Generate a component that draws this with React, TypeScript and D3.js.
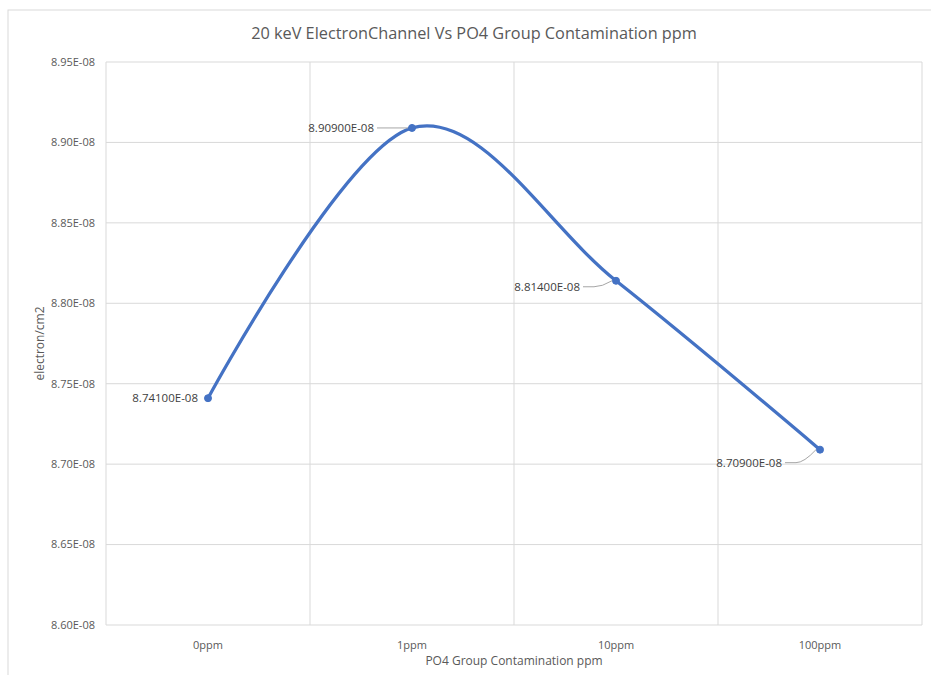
import React from 'react';
import * as d3 from 'd3';

// chart data
const categories = ['0ppm', '1ppm', '10ppm', '100ppm'];
const values = [8.741e-8, 8.909e-8, 8.814e-8, 8.709e-8];
const valueLabels = ['8.74100E-08', '8.90900E-08', '8.81400E-08', '8.70900E-08'];
const yTicks = [8.6e-8, 8.65e-8, 8.7e-8, 8.75e-8, 8.8e-8, 8.85e-8, 8.9e-8, 8.95e-8];
const yTickLabels = ['8.60E-08', '8.65E-08', '8.70E-08', '8.75E-08', '8.80E-08', '8.85E-08', '8.90E-08', '8.95E-08'];

const W = 931;
const H = 675;
const plot = { left: 106, right: 922, top: 62, bottom: 625 };
const font = "'Open Sans', 'Noto Sans', sans-serif";
const lineColor = '#4472C4';
const gridColor = '#d9d9d9';
const textColor = '#595959';

// label placement relative to each point: [dx, dy of text end, leader?]
const labelOffsets: [number, number, boolean][] = [
  [-10, 0, false],
  [-38, 0, true],
  [-36, 6, true],
  [-38, 13, true],
];

const App = () => {
  const x = d3.scaleBand().domain(categories).range([plot.left, plot.right]);
  const y = d3.scaleLinear().domain([8.6e-8, 8.95e-8]).range([plot.bottom, plot.top]);
  const cx = (c: string) => (x(c) as number) + x.bandwidth() / 2;

  const line = d3
    .line<number>()
    .x((_, i) => cx(categories[i]))
    .y((d) => y(d))
    .curve(d3.curveCatmullRom.alpha(0));

  const xEdges = categories.map((c) => x(c) as number).concat([plot.right]);

  return (
    <svg width={W} height={H} style={{ position: 'fixed', left: 0, top: 0, background: '#fff' }} fontFamily={font}>
      <rect x={8} y={10} width={W + 20} height={H + 20} fill="#fff" stroke={gridColor} strokeWidth={1} />
      <text x={474} y={39} textAnchor="middle" fontSize={16.3} fill={textColor}>
        20 keV ElectronChannel Vs PO4 Group Contamination ppm
      </text>

      {yTicks.map((t, i) => (
        <g key={'y' + i}>
          <line x1={plot.left} x2={plot.right} y1={y(t)} y2={y(t)} stroke={gridColor} strokeWidth={1} />
          <text x={95} y={y(t)} dy="0.35em" textAnchor="end" fontSize={11} fill={textColor}>
            {yTickLabels[i]}
          </text>
        </g>
      ))}
      {xEdges.map((e, i) => (
        <line key={'x' + i} x1={e} x2={e} y1={plot.top} y2={plot.bottom} stroke={gridColor} strokeWidth={1} />
      ))}
      {categories.map((c) => (
        <text key={c} x={cx(c)} y={645} dy="0.35em" textAnchor="middle" fontSize={11} fill={textColor}>
          {c}
        </text>
      ))}
      <text x={514} y={661} dy="0.35em" textAnchor="middle" fontSize={12} fill={textColor}>
        PO4 Group Contamination ppm
      </text>
      <text
        transform={`translate(40,${(plot.top + plot.bottom) / 2}) rotate(-90)`}
        textAnchor="middle"
        dy="0.35em"
        fontSize={12}
        fill={textColor}
      >
        electron/cm2
      </text>

      <path d={line(values) || ''} fill="none" stroke={lineColor} strokeWidth={3.3} strokeLinecap="round" />
      {values.map((v, i) => (
        <circle key={'p' + i} cx={cx(categories[i])} cy={y(v)} r={3.5} fill={lineColor} stroke={lineColor} />
      ))}

      {values.map((v, i) => {
        const px = cx(categories[i]);
        const py = y(v);
        const [dx, dy, leader] = labelOffsets[i];
        const tx = px + dx;
        const ty = py + dy;
        return (
          <g key={'l' + i}>
            {leader && (
              <path
                d={`M${tx + 3},${ty} L${tx + 14},${ty} Q${tx + 22},${ty} ${px - 4},${py}`}
                fill="none"
                stroke="#a6a6a6"
                strokeWidth={1}
              />
            )}
            <text x={tx} y={ty} dy="0.35em" textAnchor="end" fontSize={11.5} fill="#404040">
              {valueLabels[i]}
            </text>
          </g>
        );
      })}
    </svg>
  );
};

export default App;
